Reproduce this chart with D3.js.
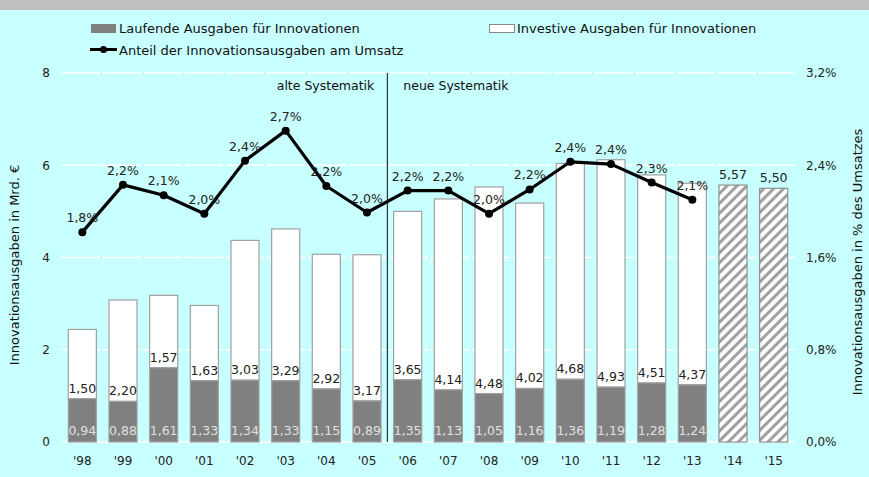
<!DOCTYPE html>
<html><head><meta charset="utf-8">
<script src="https://cdn.jsdelivr.net/npm/d3@7/dist/d3.min.js"></script>
<style>body{margin:0;padding:0;background:#c8ffff;}svg{display:block;}</style>
</head><body>
<script>
const years = ["'98","'99","'00","'01","'02","'03","'04","'05","'06","'07","'08","'09","'10","'11","'12","'13","'14","'15"];
const laufende = [0.94,0.88,1.61,1.33,1.34,1.33,1.15,0.89,1.35,1.13,1.05,1.16,1.36,1.19,1.28,1.24,null,null];
const investive = [1.50,2.20,1.57,1.63,3.03,3.29,2.92,3.17,3.65,4.14,4.48,4.02,4.68,4.93,4.51,4.37,null,null];
const planned = [null,null,null,null,null,null,null,null,null,null,null,null,null,null,null,null,5.57,5.50];
const anteil = [1.82,2.23,2.14,1.98,2.44,2.70,2.22,1.99,2.18,2.18,1.98,2.19,2.43,2.41,2.25,2.10,null,null];
const leftTicks = [0,2,4,6,8];
const rightTicks = [0,0.8,1.6,2.4,3.2];

const W=869,H=477;
const svg=d3.select("body").append("svg").attr("width",W).attr("height",H);
const font="DejaVu Sans, Verdana, sans-serif";

svg.append("rect").attr("width",W).attr("height",H).attr("fill","#c8ffff");
svg.append("rect").attr("width",W).attr("height",10).attr("fill","#c0c0c0");

const defs=svg.append("defs");
const pat=defs.append("pattern").attr("id","hatch").attr("patternUnits","userSpaceOnUse")
  .attr("width",7).attr("height",7).attr("patternTransform","rotate(45)");
pat.append("rect").attr("width",7).attr("height",7).attr("fill","#ffffff");
pat.append("rect").attr("x",0).attr("width",3).attr("height",7).attr("fill","#a0a0a0");

const x=d3.scaleBand().domain(years).range([62,794]).paddingInner(0.31).paddingOuter(0.155);
const y=d3.scaleLinear().domain([0,8]).range([442,73]);
const y2=d3.scaleLinear().domain([0,3.2]).range([442,73]);
const comma=(f)=>v=>d3.format(f)(v).replace(".",",");

// gridlines
svg.append("g").selectAll("line").data(leftTicks.filter(d=>d>0)).join("line")
  .attr("x1",62).attr("x2",794).attr("y1",d=>y(d)).attr("y2",d=>y(d))
  .attr("stroke","#ffffff").attr("stroke-width",1.3).attr("stroke-dasharray","38,3");
svg.append("line").attr("x1",62).attr("x2",794).attr("y1",y(0)).attr("y2",y(0))
  .attr("stroke","#ffffff").attr("stroke-width",1.3);

// left axis
const la=svg.append("g").attr("transform","translate(62,0)")
  .call(d3.axisLeft(y).tickValues(leftTicks).tickSize(0).tickPadding(12).tickFormat(d3.format("d")));
la.select(".domain").remove();
la.selectAll("text").attr("font-family",font).attr("font-size",12).attr("fill","#222");
// right axis
const ra=svg.append("g").attr("transform","translate(794,0)")
  .call(d3.axisRight(y2).tickValues(rightTicks).tickSize(0).tickPadding(12).tickFormat(d=>comma(".1f")(d)+"%"));
ra.select(".domain").remove();
ra.selectAll("text").attr("font-family",font).attr("font-size",12).attr("fill","#222");
// x axis
const xa=svg.append("g").attr("transform","translate(0,442)")
  .call(d3.axisBottom(x).tickSize(0).tickPadding(14));
xa.select(".domain").remove();
xa.selectAll("text").attr("font-family",font).attr("font-size",12).attr("fill","#222");

// axis titles
svg.append("text").attr("transform","translate(19,265) rotate(-90)").attr("text-anchor","middle")
  .attr("font-family",font).attr("font-size",13).attr("fill","#111").text("Innovationsausgaben in Mrd. €");
svg.append("text").attr("transform","translate(862,262) rotate(-90)").attr("text-anchor","middle")
  .attr("font-family",font).attr("font-size",13).attr("fill","#111").text("Innovationsausgaben in % des Umsatzes");

const rows=years.map((yr,i)=>({yr,l:laufende[i],v:investive[i],p:planned[i],a:anteil[i]}));
const bw=x.bandwidth();
const lblSize=12.5;

// bars
const g=svg.append("g");
rows.filter(d=>d.l!=null).forEach(d=>{
  g.append("rect").attr("x",x(d.yr)).attr("width",bw).attr("y",y(d.l+d.v)).attr("height",y(d.l)-y(d.l+d.v))
    .attr("fill","#ffffff").attr("stroke","#a0a0a0").attr("stroke-width",1.2);
  g.append("rect").attr("x",x(d.yr)).attr("width",bw).attr("y",y(d.l)).attr("height",y(0)-y(d.l))
    .attr("fill","#808080").attr("stroke","#a0a0a0").attr("stroke-width",1.2);
  g.append("text").attr("x",x(d.yr)+bw/2).attr("y",435).attr("text-anchor","middle")
    .attr("font-family",font).attr("font-size",lblSize).attr("fill","#e0e0e0").text(comma(".2f")(d.l));
  g.append("text").attr("x",x(d.yr)+bw/2).attr("y",y(d.l)-6).attr("text-anchor","middle")
    .attr("font-family",font).attr("font-size",lblSize).attr("fill","#222").text(comma(".2f")(d.v));
});
rows.filter(d=>d.p!=null).forEach(d=>{
  g.append("rect").attr("x",x(d.yr)).attr("width",bw).attr("y",y(d.p)).attr("height",y(0)-y(d.p))
    .attr("fill","url(#hatch)").attr("stroke","#909090").attr("stroke-width",1.2);
  g.append("text").attr("x",x(d.yr)+bw/2).attr("y",y(d.p)-6).attr("text-anchor","middle")
    .attr("font-family",font).attr("font-size",lblSize).attr("fill","#222").text(comma(".2f")(d.p));
});

// divider
const divX=(x("'05")+bw+x("'06"))/2;
svg.append("line").attr("x1",divX).attr("x2",divX).attr("y1",73).attr("y2",442).attr("stroke","#111").attr("stroke-width",1);
svg.append("text").attr("x",divX-13).attr("y",90).attr("text-anchor","end")
  .attr("font-family",font).attr("font-size",12.5).attr("fill","#111").text("alte Systematik");
svg.append("text").attr("x",divX+16).attr("y",90).attr("text-anchor","start")
  .attr("font-family",font).attr("font-size",12.5).attr("fill","#111").text("neue Systematik");

// line
const lineRows=rows.filter(d=>d.a!=null);
svg.append("path").datum(lineRows)
  .attr("d",d3.line().x(d=>x(d.yr)+bw/2).y(d=>y2(d.a)))
  .attr("fill","none").attr("stroke","#000").attr("stroke-width",3.2).attr("stroke-linejoin","round");
svg.append("g").selectAll("circle").data(lineRows).join("circle")
  .attr("cx",d=>x(d.yr)+bw/2).attr("cy",d=>y2(d.a)).attr("r",4).attr("fill","#000");
svg.append("g").selectAll("text").data(lineRows).join("text")
  .attr("x",d=>x(d.yr)+bw/2).attr("y",d=>y2(d.a)-10).attr("text-anchor","middle")
  .attr("font-family",font).attr("font-size",lblSize).attr("fill","#222")
  .text(d=>comma(".1f")(d.a)+"%");

// legend
const lg=svg.append("g");
const legSize=13;
lg.append("rect").attr("x",91).attr("y",24).attr("width",25).attr("height",9).attr("fill","#808080");
lg.append("text").attr("x",119).attr("y",33).attr("font-family",font).attr("font-size",legSize).attr("fill","#111")
  .text("Laufende Ausgaben für Innovationen");
lg.append("rect").attr("x",489.5).attr("y",24.5).attr("width",25).attr("height",8).attr("fill","#fff").attr("stroke","#888");
lg.append("text").attr("x",517).attr("y",33).attr("font-family",font).attr("font-size",legSize).attr("fill","#111")
  .text("Investive Ausgaben für Innovationen");
lg.append("line").attr("x1",90).attr("x2",117).attr("y1",49.5).attr("y2",49.5).attr("stroke","#000").attr("stroke-width",3);
lg.append("circle").attr("cx",103.5).attr("cy",49.5).attr("r",3.5).attr("fill","#000");
lg.append("text").attr("x",119).attr("y",54.5).attr("font-family",font).attr("font-size",legSize).attr("fill","#111")
  .text("Anteil der Innovationsausgaben am Umsatz");
</script>
</body></html>
